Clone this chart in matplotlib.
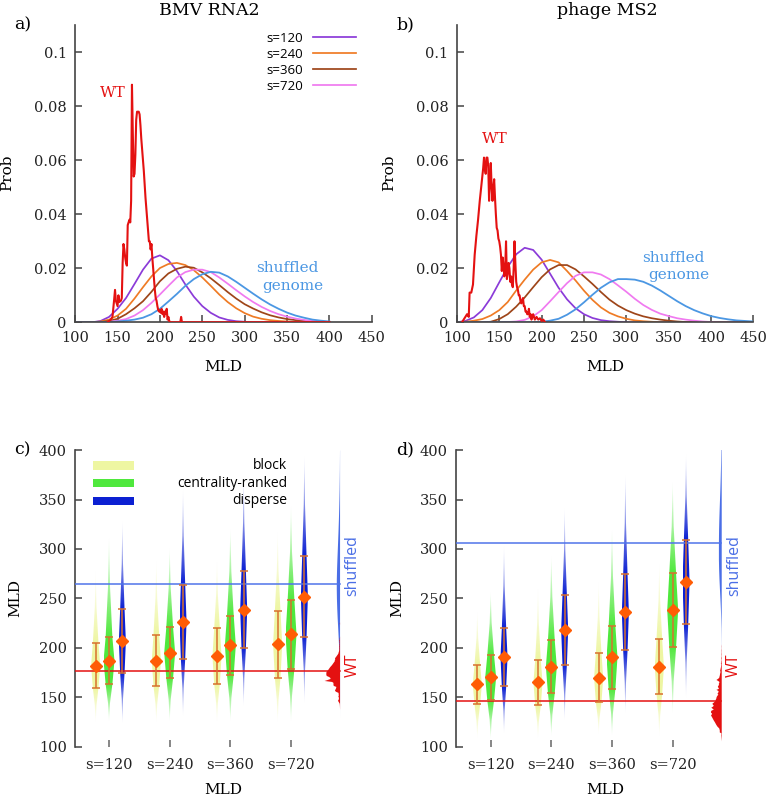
import numpy as np
import matplotlib.pyplot as plt
from matplotlib.patches import Polygon, Rectangle
from matplotlib.colors import to_rgb

plt.rcParams['font.family'] = ['DejaVu Serif']
SANS = ['Open Sans', 'DejaVu Sans']

# ---------------- panels a, b: P(MLD) ----------------
sizes = ['s=120', 's=240', 's=360', 's=720']
mld_a = np.arange(100, 410, 10)
mld_b = np.arange(100, 460, 10)

a_s120 = [0, 0, 0, 0.0005, 0.002, 0.005, 0.009, 0.0142, 0.0195, 0.0236, 0.0248, 0.023, 0.019, 0.014, 0.0095, 0.006,
          0.0035, 0.0018, 0.0009, 0.0004, 0.0002, 0, 0, 0, 0, 0, 0, 0, 0, 0, 0]
a_s240 = [0, 0, 0, 0.0003, 0.001, 0.0025, 0.005, 0.0088, 0.013, 0.017, 0.0201, 0.0216, 0.022, 0.0212, 0.0193, 0.0166,
          0.0135, 0.0103, 0.0075, 0.0052, 0.0034, 0.0021, 0.0013, 0.0008, 0.0005, 0.0003, 0.0001, 0, 0, 0, 0]
a_s360 = [0, 0, 0, 0.0001, 0.0005, 0.0013, 0.003, 0.0052, 0.0078, 0.0113, 0.0152, 0.0181, 0.0198, 0.0206, 0.0202,
          0.0185, 0.0163, 0.0138, 0.0112, 0.0088, 0.0067, 0.0051, 0.0037, 0.0026, 0.0018, 0.0012, 0.0008, 0.0005,
          0.0003, 0.0001, 0]
a_s720 = [0, 0, 0, 0, 0.0002, 0.0006, 0.0012, 0.0025, 0.0045, 0.0072, 0.0103, 0.0135, 0.0166, 0.0186, 0.0195, 0.0195,
          0.0186, 0.0166, 0.0143, 0.0119, 0.0096, 0.0075, 0.0057, 0.0042, 0.003, 0.0021, 0.0014, 0.0009, 0.0005,
          0.0003, 0.0001]
a_shuffled = [0, 0, 0, 0, 0.0001, 0.0003, 0.0006, 0.001, 0.0017, 0.003, 0.005, 0.0077, 0.0105, 0.0135, 0.016, 0.0178,
              0.0187, 0.0184, 0.017, 0.015, 0.0128, 0.0106, 0.0085, 0.0066, 0.005, 0.0036, 0.0025, 0.0017, 0.001,
              0.0006, 0.0003]

b_s120 = [0, 0.0005, 0.0018, 0.0045, 0.009, 0.0148, 0.0205, 0.0252, 0.0276, 0.0268, 0.0232, 0.018, 0.0128, 0.0085,
          0.0052, 0.003, 0.0016, 0.0008, 0.0004, 0.0002, 0, 0, 0, 0, 0, 0, 0, 0, 0, 0, 0, 0, 0, 0, 0, 0]
b_s240 = [0, 0.0002, 0.0006, 0.0012, 0.0025, 0.0045, 0.0075, 0.0118, 0.0158, 0.0195, 0.0222, 0.0231, 0.0222, 0.019,
          0.0155, 0.0117, 0.0083, 0.0055, 0.0035, 0.0022, 0.0013, 0.0007, 0.0004, 0.0002, 0, 0, 0, 0, 0, 0, 0, 0, 0,
          0, 0, 0]
b_s360 = [0, 0, 0, 0, 0.0002, 0.0012, 0.003, 0.0058, 0.0092, 0.013, 0.0167, 0.0196, 0.0212, 0.0212, 0.0196, 0.017,
          0.0142, 0.0112, 0.0084, 0.0062, 0.0045, 0.0032, 0.0022, 0.0015, 0.001, 0.0006, 0.0003, 0.0001, 0, 0, 0, 0,
          0, 0, 0, 0]
b_s720 = [0, 0, 0, 0, 0, 0, 0.0001, 0.0003, 0.0009, 0.0022, 0.0045, 0.0078, 0.0112, 0.0145, 0.0172, 0.0185, 0.0185,
          0.0177, 0.016, 0.0137, 0.0113, 0.0087, 0.0064, 0.0046, 0.0032, 0.0023, 0.0015, 0.001, 0.0006, 0.0003,
          0.0001, 0, 0, 0, 0, 0]
b_shuffled = [0, 0, 0, 0, 0, 0, 0, 0, 0, 0.0001, 0.0002, 0.0006, 0.0013, 0.0028, 0.0048, 0.0074, 0.0102, 0.0128,
              0.0148, 0.016, 0.016, 0.0158, 0.015, 0.0136, 0.0118, 0.0098, 0.0078, 0.006, 0.0045, 0.0033, 0.0023,
              0.0016, 0.0011, 0.0007, 0.0005, 0.0003]

wt_a_mld = [138, 140, 142, 144, 146, 147, 148, 150, 151, 152, 154, 155, 156, 157, 158, 159, 160, 161, 162, 163,
            164, 165, 166, 167, 168, 169, 170, 171, 172, 173, 174, 175, 176, 177, 178, 179, 180, 181, 182, 183,
            184, 185, 186, 187, 188, 189, 190, 191, 192, 193, 194, 195, 196, 197, 198, 199, 200, 201, 202, 203,
            204, 205, 206, 207, 208, 209, 210, 211, 212, 224, 225, 226, 400]
wt_a_prob = [0, 0.0005, 0.001, 0.002, 0.0085, 0.012, 0.008, 0.006, 0.010, 0.0075, 0.008, 0.009, 0.022, 0.029, 0.027,
             0.024, 0.022, 0.021, 0.036, 0.037, 0.038, 0.037, 0.045, 0.088, 0.07, 0.054, 0.055, 0.062, 0.075, 0.078,
             0.078, 0.078, 0.077, 0.073, 0.068, 0.064, 0.06, 0.056, 0.051, 0.046, 0.042, 0.038, 0.034, 0.030, 0.030,
             0.027, 0.029, 0.024, 0.02, 0.016, 0.012, 0.009, 0.008, 0.006, 0.0045, 0.004, 0.0045, 0.0035, 0.005,
             0.003, 0.004, 0.002, 0.004, 0.003, 0.005, 0.001, 0.002, 0.0005, 0, 0, 0.002, 0, 0]

wt_b_mld = [106, 108, 110, 112, 114, 115, 117, 119, 121, 123, 125, 127, 129, 131, 132, 133, 134, 135, 136, 137,
            138, 139, 140, 141, 142, 143, 144, 145, 146, 147, 148, 149, 150, 151, 152, 153, 154, 155, 156, 157,
            158, 159, 160, 161, 162, 163, 164, 165, 166, 167, 168, 169, 170, 171, 172, 173, 174, 175, 176, 177,
            178, 179, 180, 181, 182, 183, 184, 185, 186, 187, 188, 189, 190, 192, 194, 196, 198, 200, 202, 204]
wt_b_prob = [0, 0.001, 0.002, 0.003, 0.002, 0.011, 0.011, 0.014, 0.025, 0.032, 0.038, 0.045, 0.051, 0.057, 0.061,
             0.057, 0.055, 0.061, 0.061, 0.058, 0.045, 0.052, 0.059, 0.05, 0.045, 0.05, 0.053, 0.046, 0.04, 0.035,
             0.034, 0.031, 0.03, 0.028, 0.025, 0.019, 0.024, 0.021, 0.017, 0.02, 0.03, 0.016, 0.018, 0.022, 0.02,
             0.015, 0.017, 0.014, 0.013, 0.02, 0.03, 0.022, 0.015, 0.013, 0.012, 0.01, 0.01, 0.008, 0.007, 0.008,
             0.009, 0.006, 0.006, 0.004, 0.004, 0.003, 0.003, 0.005, 0.002, 0.003, 0.001, 0.002, 0.003, 0.001,
             0.002, 0.001, 0.0015, 0.0005, 0.001, 0]

prob_ticks = [0, 0.02, 0.04, 0.06, 0.08, 0.1]
prob_ticklabels = ['0', '0.02', '0.04', '0.06', '0.08', '0.1']

# ---------------- panels c, d: MLD per method ----------------
methods = ['block', 'centrality-ranked', 'disperse']

# BMV RNA2
c_mean = [[182, 187, 191.4, 203.5], [187, 195, 202.5, 213.6], [206.5, 226.4, 238.6, 251.7]]
c_err_hi = [[204.5, 213.3, 219.7, 237.2], [210.6, 220.7, 232.2, 248], [239.2, 263.9, 278, 292.8]]
c_err_lo = [[159.7, 161.4, 163.7, 170], [163.4, 169.5, 172.9, 179], [174.2, 189, 199.5, 211]]
c_max = [[279, 289, 289, 319], [314, 302, 322, 346], [331, 363, 376, 397]]
c_min = [[124, 124, 124, 124], [125, 125, 125, 124], [122, 129, 139, 142]]
c_wt_mean = 177
c_shuffled_mean = 265

# phage MS2
d_mean = [[163, 165, 169.8, 180.9], [170.1, 180.9, 190.3, 238.2], [190.7, 218, 235.8, 266.8]]
d_err_hi = [[182.6, 187.6, 194.4, 209.2], [192.3, 207.8, 221.7, 275.3], [219.7, 253.4, 274.3, 309]]
d_err_lo = [[143.1, 142.1, 145.2, 152.9], [147.2, 154, 158.6, 200.4], [161, 182.6, 197.4, 223.7]]
d_max = [[238, 262, 268, 287], [258, 295, 322, 370], [306, 344, 378, 398]]
d_min = [[108, 108, 112, 110], [107, 110, 110, 132], [112, 125, 132, 147]]
d_wt_mean = 146
d_shuffled_mean = 306

# ---------------- styles ----------------
curve_colors = ['#8b3bd8', '#ef7b25', '#9e4519', '#f07af0']
SHUF = '#4b97e3'
RED = '#e41111'
AXC = '#444444'
method_colors = ['#eef6a2', '#4fe83d', '#0c20d2']
method_hw = [0.075, 0.09, 0.058]
offsets = [-0.22, 0.0, 0.22]
DIAMOND = '#ff5c05'
ERRC = '#d8702e'
LINE_BLUE = '#4f74ea'

fig = plt.figure(figsize=(7.68, 7.96), dpi=100)


def style_axes(ax):
    for s in ['top', 'right']:
        ax.spines[s].set_visible(False)
    for s in ['left', 'bottom']:
        ax.spines[s].set_color(AXC)
        ax.spines[s].set_linewidth(1.2)
    ax.tick_params(direction='in', length=5, width=1.1, color=AXC, labelsize=10.5, labelcolor='#222222')


def prob_panel(rect, grid, curves, shuffled, wt_x, wt_y, title, title_x, wt_pos, shuf_pos, legend):
    ax = fig.add_axes(rect)
    style_axes(ax)
    lines = []
    for y, col, lab in zip(curves, curve_colors, sizes):
        ln, = ax.plot(grid, y, color=col, lw=1.25, label=lab, zorder=2)
        lines.append(ln)
    ax.plot(grid, shuffled, color=SHUF, lw=1.3, zorder=2)
    ax.plot(wt_x, wt_y, color=RED, lw=1.5, zorder=3)
    ax.set_xlim(100, 450)
    ax.set_ylim(0, 0.11)
    ax.set_xticks(np.arange(100, 451, 50))
    ax.set_yticks(prob_ticks)
    ax.set_yticklabels(prob_ticklabels)
    ax.tick_params(axis='x', pad=6)
    ax.tick_params(axis='y', pad=6)
    ax.set_xlabel('MLD', fontsize=11)
    ax.set_ylabel('Prob', fontsize=11)
    ax.xaxis.set_label_coords(0.5, -0.15)
    ax.yaxis.set_label_coords(-0.228, 0.503)
    ax.xaxis.label.set_va('center')
    ax.yaxis.label.set_va('center')
    ax.text(title_x, 1.05, title, transform=ax.transAxes, ha='center', va='center', fontsize=12.5)
    ax.text(wt_pos[0], wt_pos[1], 'WT', color=RED, fontsize=11, ha='center', va='center')
    ax.text(shuf_pos[0], shuf_pos[1], 'shuffled', color=SHUF, fontsize=11, ha='center', va='center')
    ax.text(shuf_pos[0] + 7, shuf_pos[1] - 0.0066, 'genome', color=SHUF, fontsize=11, ha='center', va='center')
    if legend:
        ax.legend(handles=lines, loc='upper right', bbox_to_anchor=(0.947, 0.978), frameon=False,
                  markerfirst=False, handlelength=3.3, handletextpad=0.7, labelspacing=0.22,
                  borderpad=0, borderaxespad=0, prop={'family': SANS, 'size': 9.5})
    return ax


def violin(ax, x, mean, lo, hi, vmin, vmax, hw, color):
    ys = [vmin, (vmin + lo) / 2, lo, mean, hi, (hi + vmax) / 2, vmax]
    ws = [0, 0.18, 0.62, 1.0, 0.62, 0.18, 0]
    verts = [(x - hw * w, y) for w, y in zip(ws, ys)] + [(x + hw * w, y) for w, y in zip(ws[::-1], ys[::-1])]
    poly = Polygon(verts, closed=True, transform=ax.transData)
    rows = np.linspace(vmin, vmax, 300)
    alpha = np.interp(rows, ys, [0.0, 0.5, 1, 1, 1, 0.5, 0.0])
    img = np.zeros((300, 2, 4))
    img[..., :3] = to_rgb(color)
    img[..., 3] = alpha[:, None]
    im = ax.imshow(img, extent=[x - hw, x + hw, vmin, vmax], origin='lower', aspect='auto',
                   interpolation='bilinear', zorder=2)
    im.set_clip_path(poly)


def mld_panel(rect, xlim, mean, err_lo, err_hi, vmin, vmax, wt_mean, shuf_mean,
              grid, shuffled, wt_x, wt_y, legend):
    ax = fig.add_axes(rect)
    style_axes(ax)
    ax.spines['bottom'].set_visible(False)
    pos = np.arange(1, 5)
    side = 4.8
    for m in range(3):
        for g in range(4):
            violin(ax, pos[g] + offsets[m], mean[m][g], err_lo[m][g], err_hi[m][g],
                   vmin[m][g], vmax[m][g], method_hw[m], method_colors[m])
    # reference distributions as half violins
    scale = 2.9
    ax.fill_betweenx(grid, side - scale * np.array(shuffled), side, color='#4a6ee6', lw=0, zorder=2)
    ax.fill_betweenx(wt_x, side - scale * np.array(wt_y), side, color=RED, lw=0, zorder=2)
    ax.plot([xlim[0], side], [shuf_mean, shuf_mean], color=LINE_BLUE, lw=1.1, zorder=3)
    ax.plot([xlim[0], side], [wt_mean, wt_mean], color=RED, lw=1.1, zorder=3)
    for m in range(3):
        x = pos + offsets[m]
        mu = np.array(mean[m])
        ax.errorbar(x, mu, yerr=[mu - np.array(err_lo[m]), np.array(err_hi[m]) - mu], fmt='D',
                    color=DIAMOND, ms=6, mec=DIAMOND, ecolor=ERRC, elinewidth=1.1, capsize=3.2,
                    capthick=1.1, zorder=4)
    ax.text(5.01, 283.7, 'shuffled', rotation=90, color='#4a6ee6', family=SANS, fontsize=11.5,
            ha='center', va='center')
    ax.text(5.01, 182.6, 'WT', rotation=90, color=RED, family=SANS, fontsize=11.5, ha='center', va='center')
    ax.set_xlim(*xlim)
    ax.set_ylim(100, 400)
    ax.set_yticks(np.arange(100, 401, 50))
    ax.set_xticks(pos)
    ax.set_xticklabels(sizes)
    ax.tick_params(axis='x', pad=8, color='#666666')
    ax.tick_params(axis='y', pad=6)
    ax.set_xlabel('MLD', fontsize=11)
    ax.set_ylabel('MLD', fontsize=11)
    ax.xaxis.set_label_coords(0.5, -0.146)
    ax.yaxis.set_label_coords(-0.2, 0.5)
    ax.xaxis.label.set_va('center')
    ax.yaxis.label.set_va('center')
    if legend:
        ys = [0.948, 0.888, 0.829]
        for y, col, lab in zip(ys, method_colors, methods):
            ax.add_patch(Rectangle((0.06, y - 0.014), 0.137, 0.028, transform=ax.transAxes,
                                   facecolor=col, edgecolor='none'))
            ax.text(0.715, y, lab, transform=ax.transAxes, ha='right', va='center',
                    family=SANS, fontsize=10)
    return ax


prob_panel([0.0979, 0.5951, 0.3862, 0.3731], mld_a, [a_s120, a_s240, a_s360, a_s720], a_shuffled,
           wt_a_mld, wt_a_prob, 'BMV RNA2', 0.451, (144.6, 0.085), (349.8, 0.0201), True)
prob_panel([0.5949, 0.5951, 0.3862, 0.3731], mld_b, [b_s120, b_s240, b_s360, b_s720], b_shuffled,
           wt_b_mld, wt_b_prob, 'phage MS2', 0.506, (144.9, 0.068), (355.2, 0.024), False)

mld_panel([0.0977, 0.0619, 0.3867, 0.3727], (0.44, 5.335), c_mean, c_err_lo, c_err_hi, c_min, c_max,
          c_wt_mean, c_shuffled_mean, mld_a, a_shuffled, wt_a_mld, wt_a_prob, True)
mld_panel([0.5941, 0.0619, 0.3867, 0.3727], (0.433, 5.328), d_mean, d_err_lo, d_err_hi, d_min, d_max,
          d_wt_mean, d_shuffled_mean, mld_b, b_shuffled, wt_b_mld, wt_b_prob, False)

for lab, x, y in [('a)', 0.030, 0.9686), ('b)', 0.528, 0.9686), ('c)', 0.0296, 0.4347), ('d)', 0.528, 0.4347)]:
    fig.text(x, y, lab, ha='center', va='center', fontsize=12.5)

fig.savefig('out.png', dpi=100)
